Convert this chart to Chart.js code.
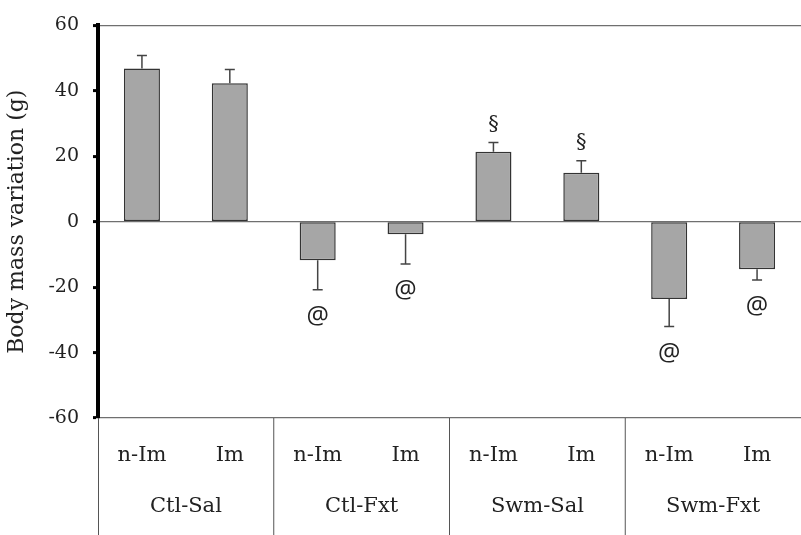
<!DOCTYPE html>
<html>
<head>
<meta charset="utf-8">
<script src="https://cdn.jsdelivr.net/npm/chart.js@4"></script>
<style>
  html, body { margin: 0; padding: 0; background: #fff; }
  #wrap { width: 801px; height: 535px; position: relative; }
</style>
</head>
<body>
<div id="wrap"><canvas id="massChart"></canvas></div>
<script>
// bar labels and the groups they belong to
const categories = ['n-Im', 'Im', 'n-Im', 'Im', 'n-Im', 'Im', 'n-Im', 'Im'];
const groups = ['Ctl-Sal', 'Ctl-Fxt', 'Swm-Sal', 'Swm-Fxt'];

// mean body mass variation (g) and SEM
const means = [46.8, 42.3, -11.8, -3.8, 21.4, 15.0, -23.6, -14.5];
const errors = [4.0, 4.2, 9.0, 9.1, 2.8, 3.6, 8.4, 3.3];

// significance marks above / below each bar
const marks = ['', '', '@', '@', '§', '§', '@', '@'];

const yTicks = [-60, -40, -20, 0, 20, 40, 60];

const serif = '"DejaVu Serif", "Liberation Serif", serif';

// error bars + marks
const errorBarPlugin = {
  id: 'errorBars',
  afterDatasetsDraw(chart) {
    const ctx = chart.ctx;
    const x = chart.scales.x;
    const y = chart.scales.y;
    ctx.save();
    ctx.strokeStyle = '#444';
    ctx.lineWidth = 1.5;
    means.forEach((m, i) => {
      const px = x.getPixelForValue(i);
      const end = m >= 0 ? m + errors[i] : m - errors[i];
      const y0 = y.getPixelForValue(m);
      const y1 = y.getPixelForValue(end);
      ctx.beginPath();
      ctx.moveTo(px, y0);
      ctx.lineTo(px, y1);
      ctx.moveTo(px - 5, y1);
      ctx.lineTo(px + 5, y1);
      ctx.stroke();

      if (marks[i]) {
        ctx.fillStyle = '#222';
        ctx.textAlign = 'center';
        ctx.textBaseline = 'middle';
        if (marks[i] === '§') {
          ctx.font = '21px ' + serif;
          ctx.fillText(marks[i], px, y1 - 18);
        } else {
          ctx.font = '25px "Open Sans", sans-serif';
          ctx.fillText(marks[i], px, y1 + 27);
        }
      }
    });
    ctx.restore();
  },
  afterDraw(chart) {
    const ctx = chart.ctx;
    const x = chart.scales.x;
    const area = chart.chartArea;
    const bottom = chart.height;
    ctx.save();
    ctx.strokeStyle = '#555';
    ctx.lineWidth = 1;
    // separators between groups (and the left edge)
    for (let g = 0; g < groups.length; g++) {
      const sep = g === 0
        ? area.left + 0.5
        : (x.getPixelForValue(2 * g - 1) + x.getPixelForValue(2 * g)) / 2;
      ctx.beginPath();
      ctx.moveTo(sep, area.bottom);
      ctx.lineTo(sep, bottom);
      ctx.stroke();
    }
    // group labels
    ctx.fillStyle = '#222';
    ctx.font = '21px ' + serif;
    ctx.textAlign = 'center';
    ctx.textBaseline = 'middle';
    groups.forEach((name, g) => {
      const cx = (x.getPixelForValue(2 * g) + x.getPixelForValue(2 * g + 1)) / 2;
      ctx.fillText(name, cx, 507);
    });
    ctx.restore();
  }
};

const ctx = document.getElementById('massChart').getContext('2d');

new Chart(ctx, {
  type: 'bar',
  data: {
    labels: categories,
    datasets: [{
      data: means,
      backgroundColor: '#a6a6a6',
      borderColor: '#333',
      borderWidth: 1.5,
      borderSkipped: false,
      categoryPercentage: 1,
      barPercentage: 0.41
    }]
  },
  options: {
    responsive: true,
    maintainAspectRatio: false,
    animation: false,
    layout: { padding: { top: 25, right: 0, left: 0, bottom: 0 } },
    plugins: {
      legend: { display: false },
      tooltip: { enabled: false }
    },
    scales: {
      x: {
        grid: { display: false, drawTicks: false },
        border: { display: false },
        ticks: {
          color: '#222',
          font: { family: serif, size: 21 },
          padding: 25,
          maxRotation: 0
        },
        afterFit(scale) { scale.height = 117; }
      },
      y: {
        min: -60,
        max: 60,
        afterBuildTicks(scale) { scale.ticks = yTicks.map(v => ({ value: v })); },
        ticks: {
          color: '#222',
          font: { family: serif, size: 19 },
          padding: 14
        },
        grid: {
          color: c => (c.tick && [60, 0, -60].includes(c.tick.value)) ? '#6f6f6f' : 'rgba(0,0,0,0)',
          lineWidth: 1.2,
          tickColor: '#000',
          tickWidth: 3,
          tickLength: 5
        },
        border: { display: true, color: '#000', width: 4 },
        title: {
          display: true,
          text: 'Body mass variation (g)',
          color: '#222',
          font: { family: serif, size: 22 },
          padding: { top: 4, bottom: 0 }
        },
        afterFit(scale) { scale.width = 98; }
      }
    }
  },
  plugins: [errorBarPlugin]
});
</script>
</body>
</html>
